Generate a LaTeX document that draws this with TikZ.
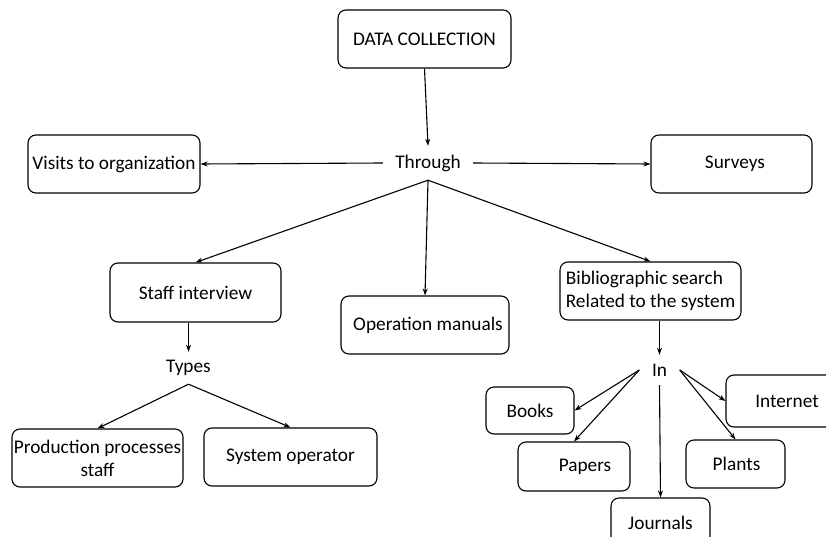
\documentclass[tikz,border=0pt]{standalone}
\usepackage{fontspec}
\setmainfont{Carlito}
\usetikzlibrary{arrows.meta}
\begin{document}
\begin{tikzpicture}[x=1pt,y=-1pt,
  box/.style={draw, rounded corners=8pt, line width=1.1pt, inner sep=0pt,
    font=\fontsize{19.3}{23}\selectfont, align=center},
  word/.style={inner sep=0pt, font=\fontsize{19.3}{23}\selectfont},
  arr/.style={-{Stealth[length=7pt,width=5pt]}, line width=1.1pt}]
  \useasboundingbox (0,0) rectangle (826,537);

  % boxes
  \node[box, minimum width=173pt, minimum height=58pt] (dc) at (424.5,39) {DATA COLLECTION};
  \node[box, minimum width=172pt, minimum height=58pt] (visits) at (114,164) {Visits to organization};
  \node[box, minimum width=161pt, minimum height=58pt] (surveys) at (731.5,164) {\hspace*{7pt}Surveys};
  \node[box, minimum width=171pt, minimum height=59pt] (staff) at (195.5,292.5) {Staff interview};
  \node[box, minimum width=168pt, minimum height=58pt] (ops) at (425,325) {\hspace*{6pt}Operation manuals};
  \node[box, minimum width=181pt, minimum height=58pt, align=left] (biblio) at (650.5,291) {Bibliographic search\\Related to the system};
  \node[box, minimum width=171pt, minimum height=58pt] (prod) at (97.5,458) {Production processes\\staff};
  \node[box, minimum width=173pt, minimum height=58pt] (sysop) at (290.5,457) {System operator};
  \node[box, minimum width=88pt, minimum height=47pt] (books) at (530,410.5) {Books};
  \node[box, minimum width=112pt, minimum height=49pt] (papers) at (574,466.5) {\hspace*{22pt}Papers};
  \node[box, minimum width=99pt, minimum height=50pt] (journals) at (660.5,523) {Journals};
  \node[box, minimum width=99pt, minimum height=48pt] (plants) at (735.5,464) {\hspace*{2pt}Plants};
  \node[box, minimum width=122pt, minimum height=52pt] (internet) at (787,401) {Internet};

  % linking words
  \node[word, minimum width=90pt, minimum height=34pt] (through) at (428,163) {Through};
  \node[word, minimum width=30pt, minimum height=32pt] (types) at (188.5,368) {Types};
  \node[word, minimum width=40pt, minimum height=30pt] (in) at (659.5,370) {In};

  % connectors
  \draw[arr] (dc.south) -- (through.north);
  \draw[arr] (through.west) -- (visits.east);
  \draw[arr] (through.east) -- (surveys.west);
  \draw[arr] (through.south) -- (staff.north);
  \draw[arr] (through.south) -- (ops.north);
  \draw[arr] (through.south) -- (biblio.north);

  \draw[arr] (types.north |- staff.south) -- (types.north);
  \draw[arr] (types.south) -- (prod.north);
  \draw[arr] (types.south) -- (sysop.north);

  \draw[arr] (in.north |- biblio.south) -- (in.north);
  \draw[arr] (in.west) -- (books.east);
  \draw[arr] (in.west) -- (papers.north);
  \draw[arr] (in.south) -- (journals.north);
  \draw[arr] (in.east) -- (internet.west);
  \draw[arr] (in.east) -- (plants.north);
\end{tikzpicture}
\end{document}
